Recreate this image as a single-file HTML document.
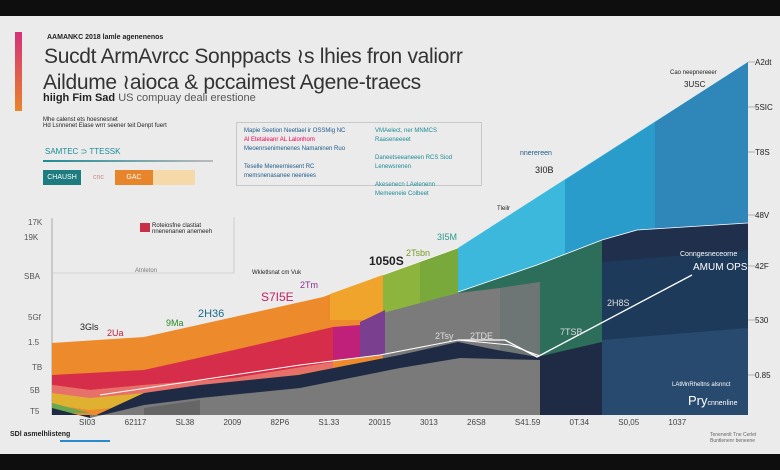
<!DOCTYPE html>
<html><head><meta charset="utf-8"><style>
body{margin:0;width:780px;height:470px;overflow:hidden;background:#ebebeb;font-family:"Liberation Sans",sans-serif;position:relative}
.t{position:absolute;white-space:nowrap;color:#222}
</style></head><body>
<div style="position:absolute;left:0;top:0;width:780px;height:16px;background:#0e0e0e"></div>
<div style="position:absolute;left:0;top:454px;width:780px;height:16px;background:#0e0e0e"></div>
<div style="position:absolute;left:15px;top:32px;width:7px;height:79px;background:linear-gradient(#d6307a,#e8852a)"></div>
<div class="t" style="left:47px;top:34px;font-size:7px;font-weight:bold">AAMANKC 2018 lamle agenenenos</div>
<div class="t" style="left:44px;top:44px;font-size:21px;color:#333;letter-spacing:-0.3px">Sucdt ArmAvrcc Sonppacts ≀s lhies fron valiorr</div>
<div class="t" style="left:43px;top:70px;font-size:21px;color:#333;letter-spacing:-0.3px">Aildume ≀aioca &amp; pccaimest  Agene-traecs</div>
<div class="t" style="left:43px;top:92px;font-size:11px"><b>hiigh Fim Sad</b> <span style="color:#555">US  compuay deali erestione</span></div>
<div class="t" style="left:43px;top:117px;font-size:6px">Mhe calenst ets hoesnesnet<br>Hd Lsnnenet Elase wrrr seener teit Denpt fuert</div>
<div style="position:absolute;left:236px;top:122px;width:244px;height:62px;border:1px solid #c8c8c8"></div>
<div class="t" style="left:244px;top:127px;font-size:6px;color:#1d5b8a;line-height:9px">Mapie Seetion Neetlael ir OSSMig NC<br><span style="color:#e05">Al Etetaleanr AL Lalonhom</span><br>Meoenrsenimenenes Namaninen Ruo<br><br>Teselle Meneerniesent RC<br>memsnenasanee neeniees</div>
<div class="t" style="left:375px;top:127px;font-size:6px;color:#1b8c96;line-height:9px">VMAelect, ner MNMCS<br>Raaseneeeet<br><br>Daneetseeaneeen RCS Siod<br>Lenewsrenen<br><br>Akesenecn LAelenenn<br>Memeeneie Colbeet</div>
<div class="t" style="left:45px;top:147px;font-size:8px;color:#1b8c96">SAMTEC ⊃ TTESSK</div>
<div style="position:absolute;left:43px;top:160px;width:170px;height:2px;background:linear-gradient(90deg,#1b8c96,#bbb)"></div>
<div style="position:absolute;left:43px;top:170px;width:38px;height:15px;background:#1e7b80;color:#fff;font-size:7px;line-height:15px;text-align:center">CHAUSH</div>
<div class="t" style="left:93px;top:174px;font-size:7px;color:#c88">cnc</div>
<div style="position:absolute;left:115px;top:170px;width:38px;height:15px;background:#e8852a;color:#fff;font-size:7px;line-height:15px;text-align:center">GAC</div>
<div style="position:absolute;left:153px;top:170px;width:42px;height:15px;background:#f5d9a8"></div>

<svg width="780" height="470" style="position:absolute;left:0;top:0">
<line x1="52" y1="218" x2="52" y2="415" stroke="#999" stroke-width="0.8"/>
<line x1="52" y1="414" x2="748" y2="414" stroke="#aaa" stroke-width="0.8"/>
<line x1="52" y1="273" x2="234" y2="273" stroke="#bbb" stroke-width="0.6"/>
<line x1="234" y1="217" x2="234" y2="273" stroke="#bbb" stroke-width="0.6"/>
<!-- blue -->
<polygon points="458,248 748,62 748,415 458,415" fill="#3bb8dc"/>
<polygon points="565,180 655,122 655,415 565,415" fill="#2a9ccc"/>
<polygon points="655,122 748,62 748,415 655,415" fill="#2f86b8"/>
<!-- green -->
<polygon points="383,275 458,248 458,415 383,415" fill="#8db53d"/>
<polygon points="420,262 458,248 458,415 420,415" fill="#7aa93b"/>
<!-- orange -->
<polygon points="52,343 144,337 234,317 323,297 383,275 383,415 52,415" fill="#ec8a2c"/>
<polygon points="330,294 383,275 383,320 330,320" fill="#f0a42c"/>
<!-- navy right -->
<polygon points="458,292 537,265 602,240 637,230 748,223 748,415 458,415" fill="#1f2f4c"/>
<polygon points="458,292 537,265 602,240 602,415 458,415" fill="#2d6e5a"/>
<polygon points="602,262 748,250 748,415 602,415" fill="#1e3d5e" opacity="0.8"/>
<polygon points="602,340 748,328 748,415 602,415" fill="#2a4f74" opacity="0.8"/>
<!-- gray middle -->
<polygon points="383,313 458,293 500,288 540,282 540,415 383,415" fill="#7b7b7b"/>
<polygon points="500,288 540,282 540,415 500,415" fill="#6d7575"/>
<!-- pink/magenta/purple -->
<polygon points="333,327 360,325 385,310 385,355 333,360" fill="#c0207a"/>
<polygon points="360,322 385,310 385,355 360,358" fill="#7b3f8f"/>
<!-- red band -->
<polygon points="52,375 144,370 234,350 333,327 333,362 234,378 144,385 90,390 52,385" fill="#d62e4a"/>
<polygon points="52,385 90,390 144,385 234,378 333,362 333,368 234,386 144,393 90,398 52,396" fill="#e8706a"/>
<polygon points="52,393 90,398 144,393 144,405 90,410 52,405" fill="#e0b030"/>
<polygon points="52,403 90,413 52,413" fill="#6aa84f"/>
<!-- dark wave -->
<polygon points="52,408 90,418 144,393 200,385 298,375 400,355 458,342 497,350 537,357 602,342 602,415 52,415" fill="#1f2a44"/>
<polygon points="90,418 144,405 200,398 300,388 400,368 460,358 540,360 540,415 90,415" fill="#7a7a7a"/>
<polygon points="144,408 200,400 200,415 144,415" fill="#666"/>
<polyline points="100,395 200,380 300,365 380,355 458,340 510,345 540,356" fill="none" stroke="#fff" stroke-width="1"/>
<polyline points="458,340 505,340 537,357 692,275" fill="none" stroke="#fff" stroke-width="1.3"/>
<polyline points="383,275 458,248" fill="none" stroke="#fff" stroke-width="0.6"/>
<polyline points="458,292 537,265 602,240 637,230 748,223" fill="none" stroke="#fff" stroke-width="0.8"/>
<g stroke="#888" stroke-width="0.6"><line x1="748" y1="62" x2="755" y2="62"/><line x1="748" y1="107" x2="755" y2="107"/><line x1="748" y1="152" x2="755" y2="152"/><line x1="748" y1="215" x2="755" y2="215"/><line x1="748" y1="266" x2="755" y2="266"/><line x1="748" y1="320" x2="755" y2="320"/><line x1="748" y1="375" x2="755" y2="375"/></g>
</svg>
<div class="t" style="left:755px;top:58px;font-size:8px">A2dt</div>
<div class="t" style="left:755px;top:103px;font-size:8px">5SIC</div>
<div class="t" style="left:755px;top:148px;font-size:8px">T8S</div>
<div class="t" style="left:755px;top:211px;font-size:8px">48V</div>
<div class="t" style="left:755px;top:262px;font-size:8px">42F</div>
<div class="t" style="left:755px;top:316px;font-size:8px">530</div>
<div class="t" style="left:755px;top:371px;font-size:8px">0.85</div>
<div class="t" style="left:28px;top:218px;font-size:8px;color:#555">17K</div>
<div class="t" style="left:24px;top:233px;font-size:8px;color:#555">19K</div>
<div class="t" style="left:24px;top:272px;font-size:8px;color:#555">SBA</div>
<div class="t" style="left:28px;top:313px;font-size:8px;color:#555">5Gf</div>
<div class="t" style="left:28px;top:338px;font-size:8px;color:#555">1.5</div>
<div class="t" style="left:32px;top:363px;font-size:8px;color:#555">TB</div>
<div class="t" style="left:30px;top:386px;font-size:8px;color:#555">5B</div>
<div class="t" style="left:30px;top:407px;font-size:8px;color:#555">T5</div>
<div style="position:absolute;left:140px;top:223px;width:10px;height:9px;background:#c8304a"></div>
<div class="t" style="left:152px;top:223px;font-size:6px">Roteiosfne clastiat<br>nnenenanen anemeeh</div>
<div class="t" style="left:135px;top:268px;font-size:6px;color:#777">Atnleton</div>
<div class="t" style="left:252px;top:270px;font-size:6px">Wkletlsnat cm Vuk</div>
<div class="t" style="left:261px;top:290px;font-size:12px;color:#c02060">S7I5E</div>
<div class="t" style="left:300px;top:280px;font-size:9px;color:#8a3090">2Tm</div>
<div class="t" style="left:369px;top:254px;font-size:12px;font-weight:bold">1050S</div>
<div class="t" style="left:406px;top:248px;font-size:9px;color:#7a9a2a">2Tsbn</div>
<div class="t" style="left:437px;top:232px;font-size:9px;color:#2a9a8a">3I5M</div>
<div class="t" style="left:497px;top:206px;font-size:6px">Tleilr</div>
<div class="t" style="left:198px;top:308px;font-size:11px;color:#1b6b8a">2H36</div>
<div class="t" style="left:166px;top:318px;font-size:9px;color:#2a8a2a">9Ma</div>
<div class="t" style="left:80px;top:322px;font-size:9px">3Gls</div>
<div class="t" style="left:107px;top:328px;font-size:9px;color:#c02040">2Ua</div>
<div class="t" style="left:435px;top:331px;font-size:9px;color:#ddd">2Tsy</div>
<div class="t" style="left:470px;top:331px;font-size:9px;color:#ddd">2TDE</div>
<div class="t" style="left:560px;top:327px;font-size:9px;color:#ddd">7TSB</div>
<div class="t" style="left:607px;top:298px;font-size:9px;color:#ddd">2H8S</div>
<div class="t" style="left:680px;top:251px;font-size:7px;color:#fff">Conngesneceorne</div>
<div class="t" style="left:693px;top:262px;font-size:10px;color:#fff">AMUM OPS</div>
<div class="t" style="left:520px;top:150px;font-size:7px;color:#1d5b8a">nnerereen</div>
<div class="t" style="left:535px;top:165px;font-size:9px">3I0B</div>
<div class="t" style="left:670px;top:70px;font-size:6px">Cao neepnereeer</div>
<div class="t" style="left:684px;top:80px;font-size:8px">3USC</div>
<div class="t" style="left:672px;top:382px;font-size:6px;color:#fff">LAtMnRheltns alsnnct</div>
<div class="t" style="left:688px;top:393px;font-size:13px;color:#fff">Pry<span style="font-size:7px">cnnenline</span></div>
<div class="t" style="left:79px;top:418px;font-size:8px;word-spacing:27px;color:#444">SI03 62117 SL38 2009 82P6 S1.33 20015 3013 26S8 S41.59 0T.34 S0,05 1037</div>
<div class="t" style="left:10px;top:431px;font-size:7px;font-weight:bold">SDl asmelhlisteng</div>
<div style="position:absolute;left:60px;top:440px;width:50px;height:2px;background:#2a8ad0"></div>
<div class="t" style="left:710px;top:432px;font-size:5px;color:#666">Tenenenlt Tne Cerlet<br>Buntlenenr beneene</div>
</body></html>
